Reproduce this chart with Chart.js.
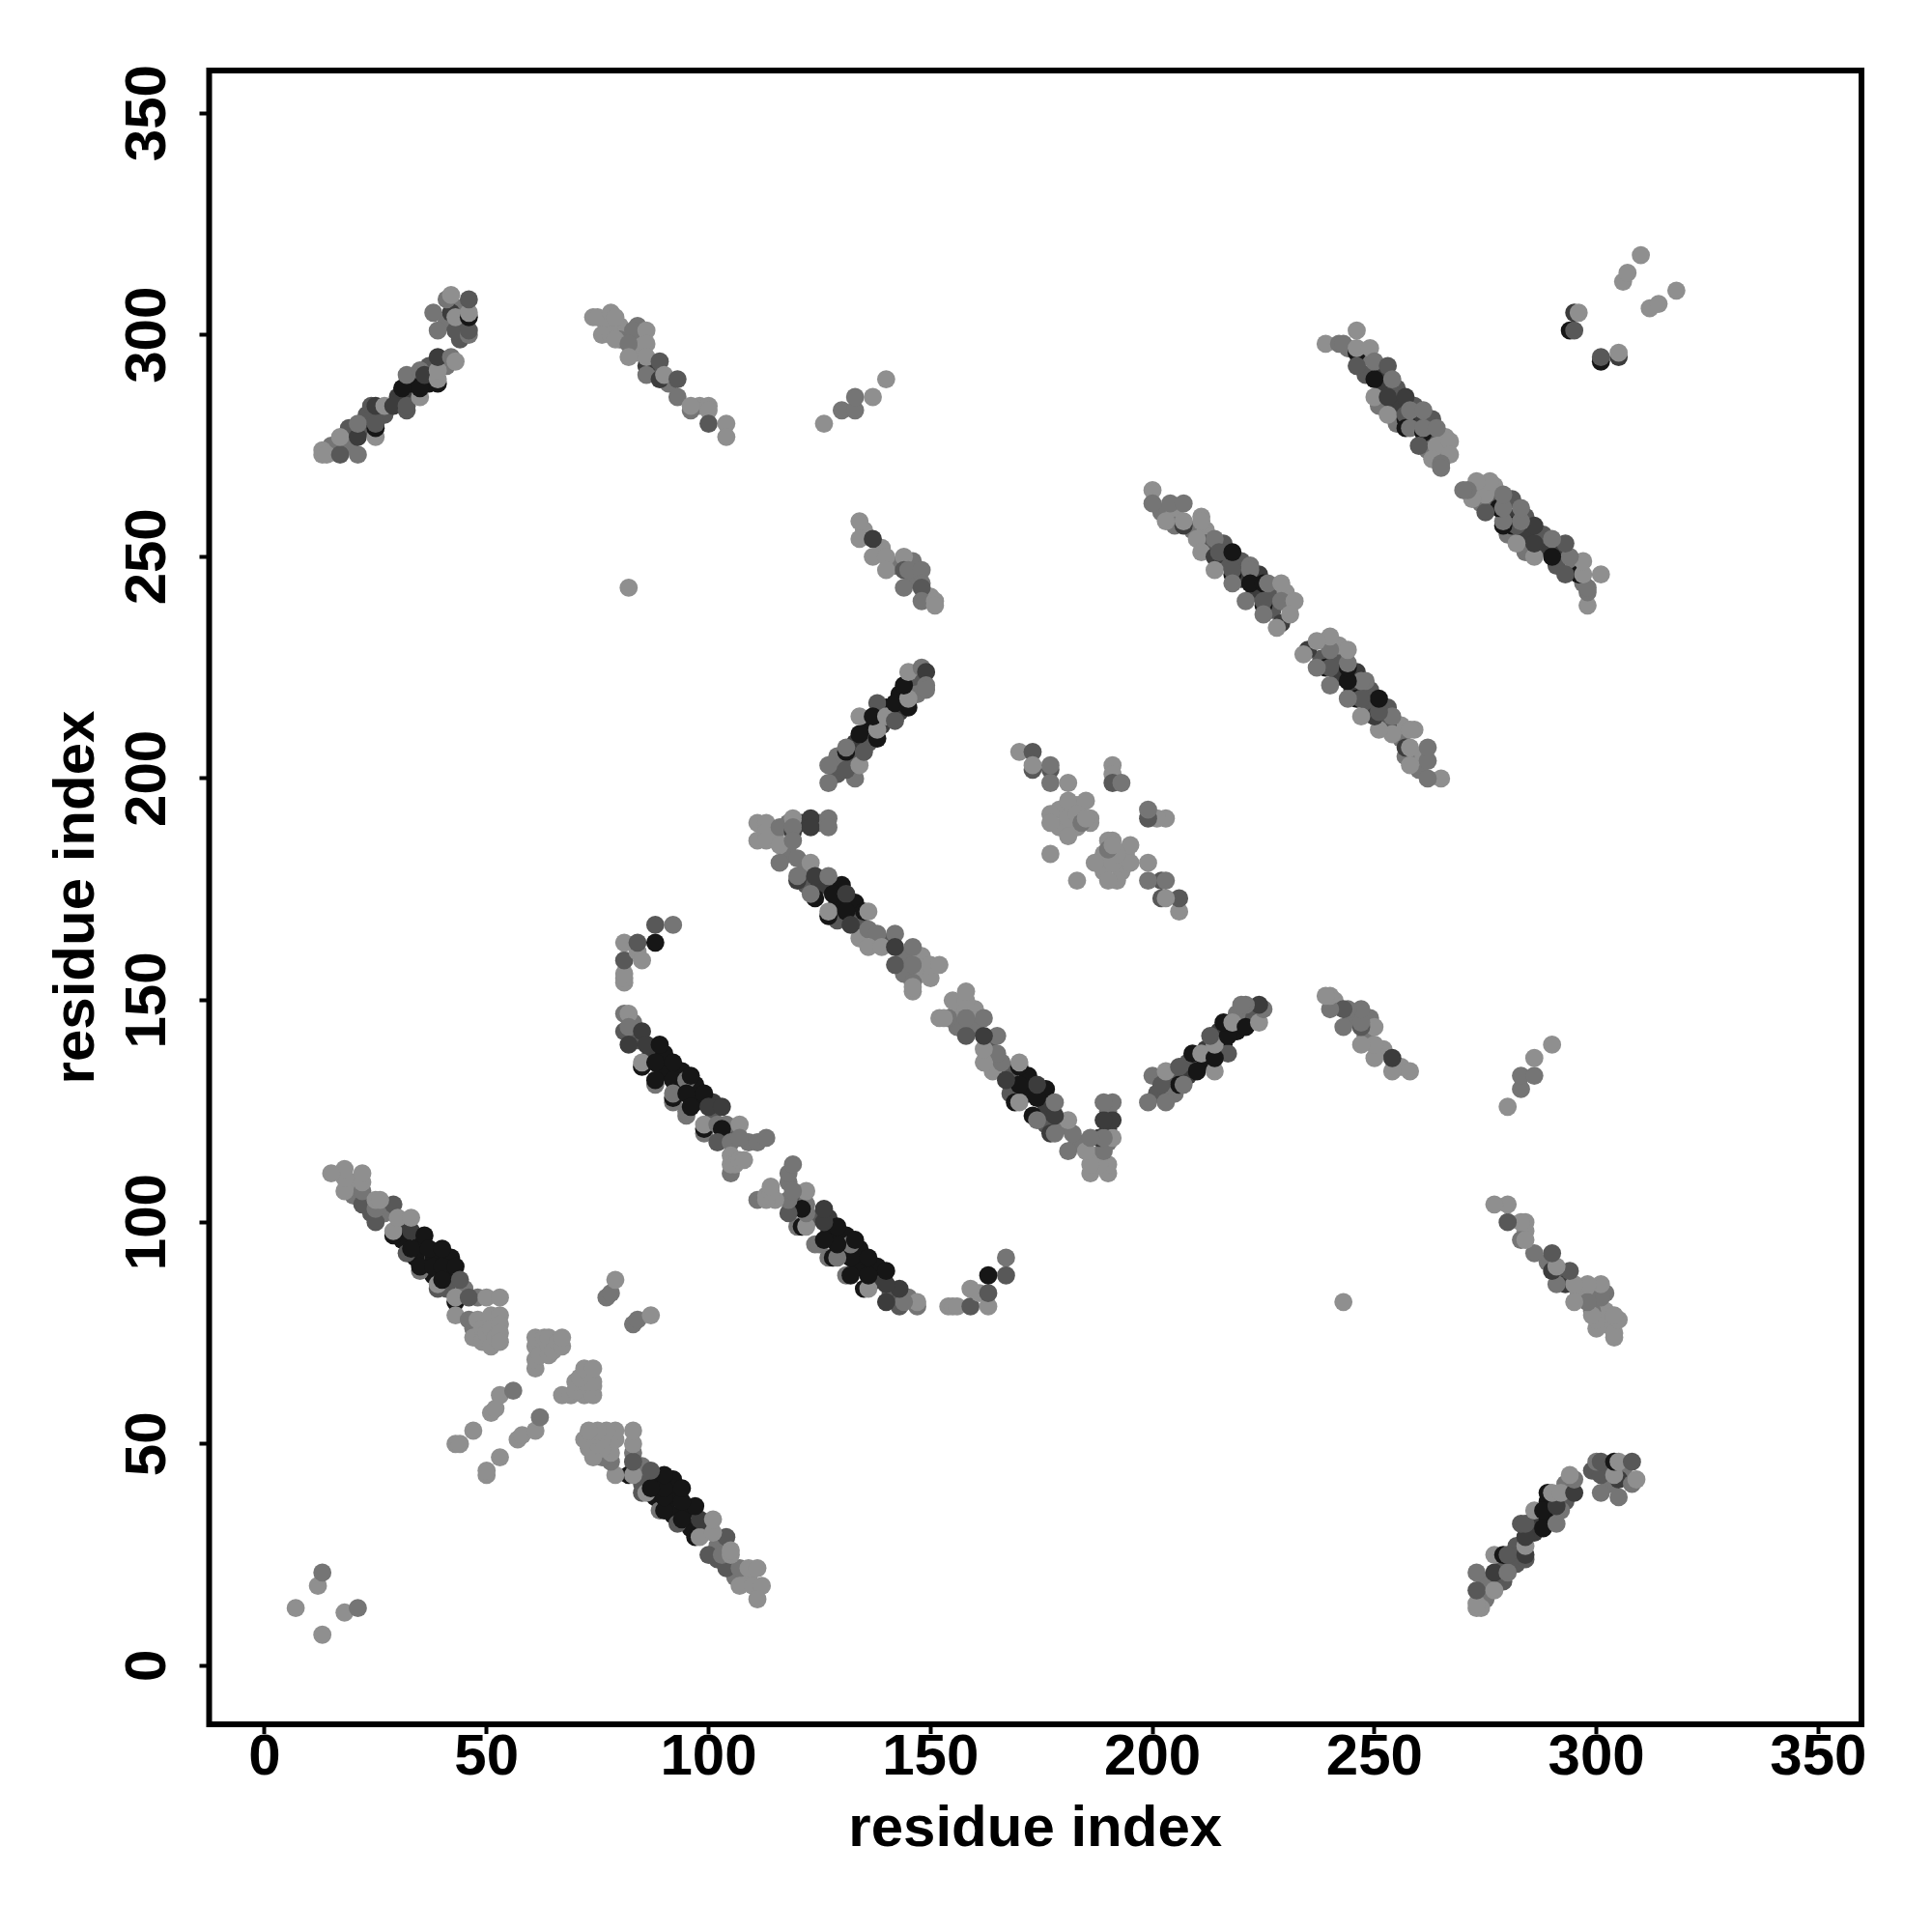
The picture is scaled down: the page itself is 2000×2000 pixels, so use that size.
<!DOCTYPE html>
<html>
<head>
<meta charset="utf-8">
<script src="https://cdn.jsdelivr.net/npm/chart.js@4"></script>
<style>
  html, body { margin: 0; padding: 0; background: #fff; }
  canvas { display: block; }
</style>
</head>
<body>
<canvas id="mapa" width="2000" height="2000"></canvas>
<script>
// contacts: [residue, residue, strength 1..5]
// only one triangle is listed, the map is symmetric
const originGroup = [[7,13,1],[12,18,1],[13,21,2]];
const helixLeft = [[20,106,2],[24,102,3],[27,102,2],[31,99,4],[31,96,5],[35,95,5],[34,92,5],[38,92,5],[38,88,5],[42,92,5],[42,88,5],[41,85,3],[45,85,2],[48,83,2],[20,109,1],
  [22,104,3],[25,100,3],[25,103,2],[29,97,5],[29,98,1],[29,104,3],[30,101,1],[33,98,4],[32,93,3],[33,94,5],[33,101,1],
  [22,107,2],[18,107,1],[18,110,1],[18,112,1],[15,111,1],[22,109,1],[22,111,1],[25,105,1],[26,105,1],
  [36,97,5],[37,94,5],[40,94,5],[35,89,2],[35,90,5],[38,90,5],[40,90,5],[43,90,5],[39,85,3],[39,86,1],[40,87,5],[44,87,3],
  [43,82,5],[43,83,1],[46,83,3],[50,83,1],[53,83,1]];
const crossBlob = [[43,79,1],[46,78,2],[47,76,2],[47,74,1],[48,78,1],[49,76,1],[49,73,1],[50,75,1],[51,79,1],[51,76,1],[51,72,1],[52,74,1],[53,79,1],[53,77,1],[53,75,1],[53,73,1],
  [61,67,1],[61,69,1],[61,72,1],[61,74,1],[62,70,1],[63,74,1],[64,70,1],[64,72,1],[64,74,1],[65,71,1],[66,73,1],[67,72,1],[67,74,1]];
const crossLoose = [[43,50,1],[44,50,1],[47,53,1],[51,57,1],[52,58,1],[53,61,1],[56,62,2],[77,83,2],[78,84,2],[79,87,1],[82,243,1]];
const strandLong = [[87,138,4],[90,138,5],[90,134,5],[94,134,5],[94,130,5],[97,131,5],[97,127,5],[101,127,4],[101,123,3],[83,145,2],[84,141,3],[104,120,3],[109,118,2],[104,122,2],
  [88,131,2],[92,127,2],[95,124,2],[99,120,2],
  [81,154,1],[81,155,1],[81,156,1],[81,159,3],[84,161,1],[85,159,1],[81,163,1],[84,163,3],[88,163,5],[88,167,3],[92,167,2],
  [81,147,2],[82,147,1],[81,143,3],[82,144,2],[82,140,4],[85,143,4],[85,135,5],[85,136,1],[86,140,4],[89,140,5],[88,136,5],[88,132,5],
  [92,136,5],[92,132,5],[92,128,5],[92,129,2],[95,132,2],[96,133,5],[95,125,2],[95,129,5],[96,126,5],[99,129,5],[100,126,4],[103,126,4],
  [99,121,5],[99,122,1],[102,122,2],[103,121,5],[107,122,1],[102,118,3],[105,118,2],[107,119,2],[111,118,2],[113,119,2],
  [105,115,1],[105,111,2],[105,113,1],[106,113,1],[107,114,1],[108,114,1]];
const strandMid = [[115,187,1],[118,190,2],[121,190,4],[125,190,2],[118,183,2],[122,180,2],[122,176,3],[126,176,3],[130,176,5],[125,176,4],[129,172,5],[133,172,5],[129,168,3],[134,168,3],[134,164,1],[138,163,1],[140,163,3],[144,160,2],[144,156,2],[148,156,1],[148,160,1],
  [111,190,1],[111,186,1],[113,190,1],[113,188,1],[113,186,1],[116,189,2],[116,185,1],[116,181,2],[119,191,1],[119,188,4],[119,189,2],[119,186,2],
  [120,182,2],[120,177,4],[120,178,2],[123,191,4],[123,189,4],[127,191,2],[127,189,2],[123,181,1],[124,178,4],[127,178,2],[124,173,5],[123,174,2],
  [128,174,5],[131,174,4],[127,169,5],[127,170,1],[131,170,5],[135,170,5],[136,170,1],[132,167,4],[136,166,2],[138,165,2],[136,162,1],[139,162,1],
  [142,165,2],[142,162,4],[146,162,2],[142,158,3],[146,158,2],[146,154,2],[146,152,1],[146,153,1],[150,155,1],[150,158,1],[152,158,1]];
const strandRise = [[129,201,3],[129,205,2],[133,205,3],[133,208,4],[136,208,3],[136,212,5],[139,212,4],[140,216,5],[143,215,4],[143,219,5],[147,222,3],[147,219,2],[133,200,2],
  [127,199,2],[127,203,2],[131,202,3],[134,203,1],[131,206,5],[131,207,2],[135,206,3],[134,210,5],[134,214,1],[138,209,5],[138,211,1],[138,217,3],
  [137,214,5],[140,214,1],[142,213,3],[142,217,5],[145,216,5],[145,218,1],[144,221,5],[145,224,1],[148,225,2],[149,224,4],[149,221,2],[149,220,2]];
const strandShort = [[135,256,1],[139,252,1],[142,248,2],[146,245,2],[146,249,2],[150,241,1],
  [134,258,1],[134,254,1],[137,254,4],[137,250,1],[140,250,1],[140,247,1],[144,250,1],[144,247,3],[145,247,2],[148,247,2],[144,243,2],[148,244,2],[148,243,3],[148,240,2],[151,240,1],[151,239,1]];
const topPairs = [[126,280,1],[130,283,2],[133,283,2],[133,286,2],[137,286,1],[140,290,1]];
const centerGroup = [[179,193,1],[179,189,1],[183,189,1],[183,194,1],[182,193,1],[186,191,1],[186,190,1],
  [170,206,1],[173,206,3],[173,202,3],[173,203,1],[177,202,3],[177,203,2],[177,199,2],[181,199,1],[181,195,1],[185,195,1],[177,192,1],[177,190,1],
  [177,183,1],[181,191,1],[181,187,1],[183,192,1],[184,190,2],[185,191,1],[191,203,1],[191,201,1],[191,199,3],[193,199,2]];
const strandRight = [[202,260,2],[205,260,1],[209,256,2],[212,256,1],[212,253,3],[216,253,3],[216,249,3],[220,249,3],[220,245,4],[224,246,4],[223,242,4],[227,242,3],[227,238,3],[231,239,1],[230,242,1],[205,257,2],
  [200,265,1],[200,262,2],[204,262,2],[207,262,2],[203,258,1],[207,257,4],[207,258,1],[211,259,1],[211,258,1],[210,254,1],[214,254,2],[211,251,1],
  [214,250,4],[215,251,3],[218,251,5],[214,247,1],[218,246,5],[218,247,3],[222,248,2],[222,247,2],[218,244,2],[222,244,5],[225,244,5],[226,244,2],[229,244,1],
  [221,240,2],[225,239,5],[225,240,3],[229,240,2],[232,240,1],[225,237,2],[229,235,4],[231,237,1],[228,234,1]];
const strandUpper = [[244,297,2],[248,295,2],[248,291,3],[252,291,4],[252,288,4],[255,288,3],[255,284,4],[259,284,3],[259,280,4],[263,281,3],[262,277,3],[266,277,1],[266,274,2],[262,274,2],[251,284,2],[255,280,2],
  [239,298,1],[242,298,2],[243,298,2],[246,301,1],[246,296,5],[246,297,1],[246,293,3],[249,297,1],[250,294,2],[253,293,3],[250,290,5],[254,290,2],
  [250,286,1],[253,286,4],[257,286,4],[253,282,1],[257,281,5],[257,282,3],[258,283,2],[261,283,2],[257,279,5],[258,279,2],[261,278,5],[261,279,2],[264,279,2],
  [260,275,3],[264,275,1],[267,276,1],[267,273,1],[263,272,1],[265,271,2],[265,270,2]];
const strandFar = [[15,275,2],[19,275,2],[19,279,3],[23,279,3],[23,282,3],[27,282,3],[30,286,4],[33,286,4],[33,289,5],[37,289,5],[37,293,3],[41,293,2],[41,303,2],[44,303,3],[44,306,2],[44,299,3],
  [13,274,1],[13,273,1],[14,273,1],[17,273,3],[17,277,1],[21,273,2],[21,277,4],[25,277,1],[21,280,2],[25,279,5],[25,280,3],[24,284,3],[25,284,4],[27,284,1],
  [29,284,4],[32,283,3],[32,284,3],[35,286,1],[31,288,5],[35,288,5],[32,291,2],[35,292,2],[36,291,4],[39,289,5],[39,290,1],[39,292,1],[39,295,4],[42,295,2],[43,294,1],
  [39,301,2],[38,305,2],[43,301,3],[46,300,2],[46,301,3],[42,305,4],[43,304,1],[46,304,5],[46,305,1],[46,308,3],[41,308,2],[42,309,1]];
const strandTop = [[77,302,1],[80,302,1],[80,299,2],[84,299,1],[84,296,1],[88,292,3],[91,289,2],[98,284,1],[84,302,2],
  [74,304,1],[75,304,1],[78,305,1],[79,304,1],[76,300,1],[78,300,1],[79,299,1],[83,301,2],[82,298,2],[86,301,1],[86,298,1],[82,295,1],[86,293,4],[86,295,1],
  [89,294,3],[86,291,2],[89,290,4],[90,291,1],[93,290,3],[93,286,2],[96,283,2],[96,284,1],[100,284,1],[100,283,1],[100,280,3],[104,280,1],[104,277,1]];
const cornerGroup = [[294,301,5],[295,301,3],[295,305,4],[296,305,1],[306,312,1],[307,314,1],[310,318,1]];

const contactGroups = [originGroup, helixLeft, crossBlob, crossLoose, strandLong, strandMid, strandRise, strandShort,
  topPairs, centerGroup, strandRight, strandUpper, strandFar, strandTop, cornerGroup];

const tickValues = [0, 50, 100, 150, 200, 250, 300, 350];
const axisLabel = 'residue index';

const strengthGreys = ['#8f8f8f', '#757575', '#585858', '#3c3c3c', '#161616'];

const puntos = [];
const colores = [];
contactGroups.forEach(group => {
  group.forEach(c => {
    puntos.push({x: c[0], y: c[1]});
    colores.push(strengthGreys[c[2] - 1]);
    puntos.push({x: c[1], y: c[0]});
    colores.push(strengthGreys[c[2] - 1]);
  });
});

const fontEjes = {family: '"Liberation Sans"', size: 60, weight: 'bold'};

function ejeTicks(scale) {
  scale.ticks = tickValues.map(v => ({value: v}));
}

const marco = {
  id: 'marco',
  afterDraw(chart) {
    const a = chart.chartArea;
    const ctx = chart.ctx;
    ctx.save();
    ctx.strokeStyle = '#000';
    ctx.lineWidth = 6;
    ctx.lineJoin = 'miter';
    ctx.strokeRect(a.left, a.top, a.right - a.left, a.bottom - a.top);
    ctx.restore();
  }
};

new Chart(document.getElementById('mapa'), {
  type: 'scatter',
  data: {
    datasets: [{
      data: puntos,
      pointBackgroundColor: colores,
      pointBorderWidth: 0,
      pointRadius: 9.4
    }]
  },
  plugins: [marco],
  options: {
    responsive: false,
    animation: false,
    layout: {padding: {top: 73, right: 73, left: 0, bottom: 0}},
    plugins: {legend: {display: false}, tooltip: {enabled: false}},
    scales: {
      x: {
        type: 'linear',
        min: -12.5,
        max: 359.7,
        afterBuildTicks: ejeTicks,
        afterFit(scale) { scale.height = 215; },
        border: {display: false},
        grid: {drawOnChartArea: false, drawTicks: true, tickLength: 10, tickWidth: 4, tickColor: '#000'},
        ticks: {color: '#000', font: fontEjes, padding: -11, maxRotation: 0, autoSkip: false},
        title: {display: true, text: axisLabel, color: '#000', font: fontEjes, padding: {top: 0, bottom: 70}}
      },
      y: {
        type: 'linear',
        min: -13.2,
        max: 359.6,
        afterBuildTicks: ejeTicks,
        afterFit(scale) { scale.width = 216.5; },
        border: {display: false},
        grid: {drawOnChartArea: false, drawTicks: true, tickLength: 10, tickWidth: 4, tickColor: '#000'},
        ticks: {color: '#000', font: fontEjes, padding: 2, minRotation: 90, maxRotation: 90, crossAlign: 'center', autoSkip: false},
        title: {display: true, text: axisLabel, color: '#000', font: fontEjes, padding: {top: 44, bottom: 0}}
      }
    }
  }
});
</script>
</body>
</html>
